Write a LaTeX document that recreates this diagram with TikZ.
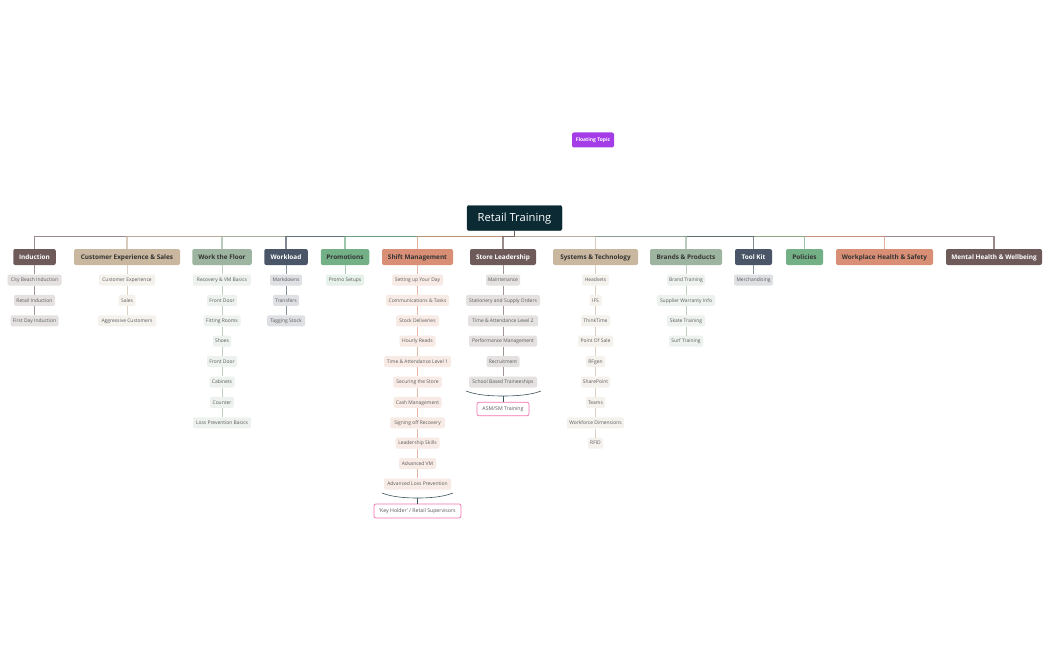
\documentclass[tikz,border=0pt]{standalone}
\usepackage{fontspec}
\setmainfont{Open Sans}
\definecolor{cMauve}{HTML}{6F5A5A}
\definecolor{cTan}{HTML}{C9B7A0}
\definecolor{cSage}{HTML}{9DB5A0}
\definecolor{cSlate}{HTML}{4A5568}
\definecolor{cGreen}{HTML}{74B086}
\definecolor{cSalmon}{HTML}{D98F75}
\definecolor{cRoot}{HTML}{0B2A33}
\definecolor{cPink}{HTML}{F272B5}
\definecolor{cPurple}{HTML}{A43CE8}
\tikzset{
 x=1pt,y=-1pt,
 roottopic/.style={draw=cRoot,fill=cRoot,rounded corners=2pt,text=white,minimum width=95pt,minimum height=25pt,inner sep=0pt,text height=8pt,text depth=0pt,font=\fontsize{11.2}{13}\selectfont},
 maintopic/.style={fill=#1,rounded corners=2pt,minimum height=16pt,inner sep=0pt,text height=4.6pt,text depth=0pt,font=\fontsize{6.4}{7}\selectfont\bfseries},
 subtopic/.style={fill=#1!18!white,rounded corners=2pt,minimum height=11pt,inner sep=0pt,text=black!65,text height=3.5pt,text depth=0pt,font=\fontsize{4.95}{6}\selectfont},
 floattopic/.style={fill=cPurple,rounded corners=2pt,text=white,minimum width=42pt,minimum height=15pt,inner sep=0pt,text height=3.6pt,text depth=0pt,font=\fontsize{5}{6}\selectfont\bfseries},
 summarytopic/.style={draw=cPink,fill=white,line width=.7pt,rounded corners=2pt,inner sep=0pt,text=black!65,text height=3.6pt,text depth=0pt,font=\fontsize{5.2}{6}\selectfont},
 branchline/.style={line width=1pt,draw=#1},
 trunk/.style={line width=1.1pt,draw=#1,draw opacity=.7},
 bracket/.style={line width=.6pt,draw=cRoot!80},
}
% \branch{id}{x}{colour}{text colour}{main width}{main label}
\newcommand{\branch}[6]{%
 \node[maintopic=#3,text=#4,minimum width=#5pt] (#1) at (#2,257) {#6};
 \draw[trunk=#3] (rootjoin) -| (#1.north);
}
% \subs{id}{x}{colour}{list width/label}
\newcommand{\subs}[4]{%
 \foreach \w/\t [count=\i] in {#4}{%
   \pgfmathsetmacro{\yy}{280+20.4*(\i-1)}
   \pgfmathtruncatemacro{\p}{\i-1}
   \node[subtopic=#3,minimum width=\w pt] (#1s\i) at (#2,\yy) {\t};
   \ifnum\i=1
     \draw[branchline=#3!65] (#1.south) -- (#1s\i.north);
   \else
     \draw[branchline=#3!65] (#1s\p.south) -- (#1s\i.north);
   \fi
 }%
}
\begin{document}
\begin{tikzpicture}
\useasboundingbox (0,0) rectangle (1050,650);
\fill[white] (0,0) rectangle (1050,650);
\node[roottopic] (root) at (514.5,218) {Retail Training};
\coordinate (rootjoin) at (514.5,236.3);
\node[floattopic] (floating) at (593,140) {Floating Topic};
\draw[line width=1.1pt,draw=cMauve] (root.south) -- (rootjoin);
\branch{a}{34.5}{cMauve}{white}{42.5}{Induction}
\subs{a}{34.5}{cMauve}{54/City Beach Induction,41/Retail Induction,48/First Day Induction}
\branch{m}{994}{cMauve}{white}{96}{Mental Health \& Wellbeing}
\branch{l}{884.5}{cSalmon}{black!80}{97}{Workplace Health \& Safety}
\branch{k}{804.5}{cGreen}{black!80}{37}{Policies}
\branch{j}{753.5}{cSlate}{white}{37}{Tool Kit}
\subs{j}{753.5}{cSlate}{39/Merchandising}
\branch{i}{686}{cSage}{black!80}{72}{Brands \& Products}
\subs{i}{686}{cSage}{38/Brand Training,58/Supplier Warranty Info,38/Skate Training,34/Surf Training}
\branch{h}{595.5}{cTan}{black!80}{85}{Systems \& Technology}
\subs{h}{595.5}{cTan}{27/Headsets,12/IFS,29/ThinkTime,35/Point Of Sale,19/RFgen,29/SharePoint,19/Teams,57/Workforce Dimensions,15/RFID}
\branch{b}{127}{cTan}{black!80}{106}{Customer Experience \& Sales}
\subs{b}{127}{cTan}{56/Customer Experience,17/Sales,58/Aggressive Customers}
\branch{c}{222}{cSage}{black!80}{59.5}{Work the Floor}
\subs{c}{222}{cSage}{58/Recovery \& VM Basics,30/Front Door,37/Fitting Rooms,18/Shoes,30/Front Door,25/Cabinets,24/Counter,58/Loss Prevention Basics}
\branch{d}{286}{cSlate}{white}{43.5}{Workload}
\subs{d}{286}{cSlate}{32/Markdowns,26/Transfers,38/Tagging Stock}
\branch{e}{345}{cGreen}{black!80}{48.5}{Promotions}
\subs{e}{345}{cGreen}{38/Promo Setups}
\branch{f}{417.5}{cSalmon}{black!80}{71}{Shift Management}
\subs{f}{417.5}{cSalmon}{51/Setting up Your Day,63/Communications \& Tasks,43/Stock Deliveries,36/Hourly Reads,67/Time \& Attendance Level 1,48.5/Securing the Store,48/Cash Management,54.5/Signing off Recovery,44/Leadership Skills,37/Advanced VM,67/Advanced Loss Prevention}
\branch{g}{503}{cMauve}{white}{66}{Store Leadership}
\subs{g}{503}{cMauve}{34/Maintenance,74/Stationery and Supply Orders,70/Time \& Attendance Level 2,68/Performance Management,33/Recruitment,68/School Based Traineeships}
% summaries
\node[summarytopic,minimum width=87pt,minimum height=14pt] (keyholder) at (417.5,511) {'Key Holder' / Retail Supervisors};
\node[summarytopic,minimum width=52pt,minimum height=13.5pt] (asm) at (503,409) {ASM/SM Training};
\coordinate (fa) at (382,493);\coordinate (fb) at (453,493);\coordinate (fm) at (417.5,498);
\coordinate (ga) at (466,391);\coordinate (gb) at (541,391);\coordinate (gm) at (503,396);
\draw[bracket] (fa) .. controls (392,497) and (405,498) .. (fm) .. controls (430,498) and (443,497) .. (fb);
\draw[bracket] (fm) -- (keyholder.north);
\draw[bracket] (ga) .. controls (476,395) and (490,396) .. (gm) .. controls (516,396) and (531,395) .. (gb);
\draw[bracket] (gm) -- (asm.north);
\end{tikzpicture}
\end{document}
